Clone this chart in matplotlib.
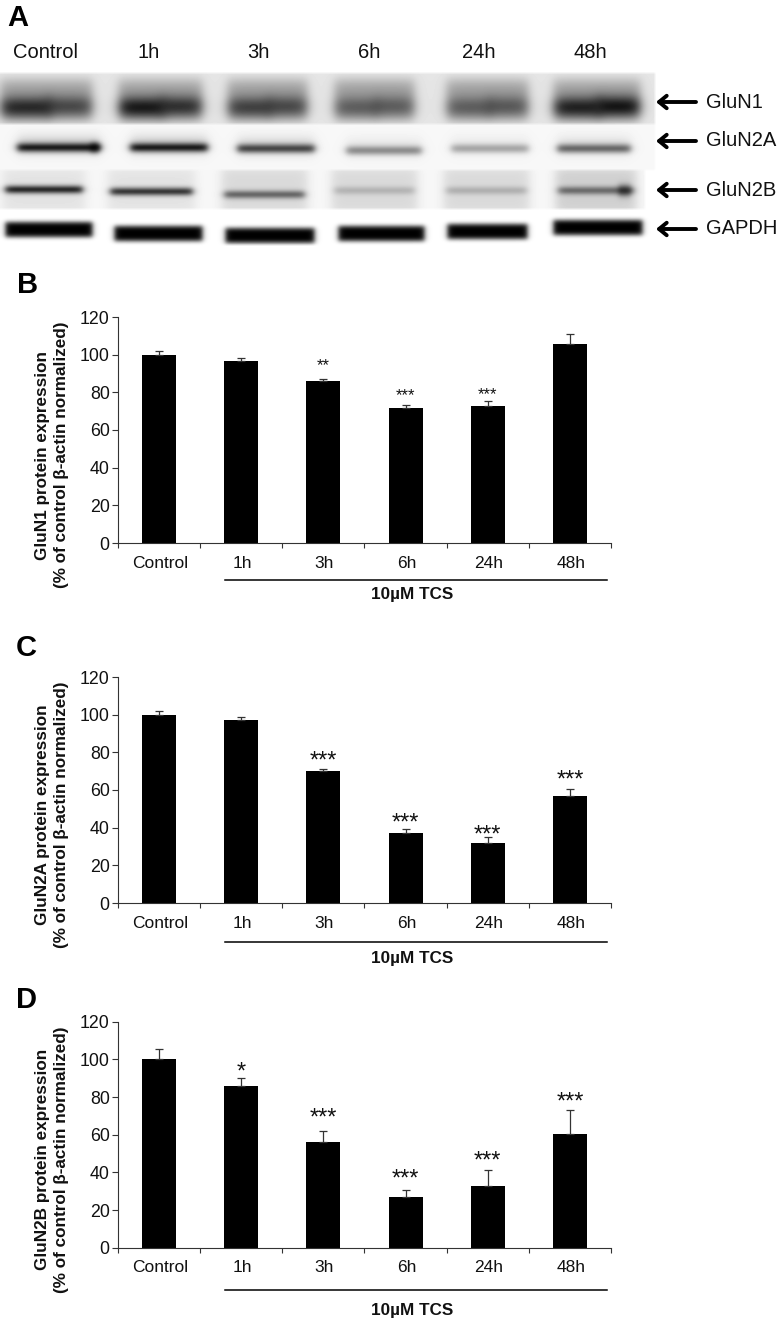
import matplotlib
matplotlib.use("Agg")
import matplotlib.pyplot as plt
import numpy as np

plt.rcParams['font.family'] = ['Liberation Sans', 'DejaVu Sans']

# bar chart data
categories = ["Control", "1h", "3h", "6h", "24h", "48h"]
yticks = [0, 20, 40, 60, 80, 100, 120]

glun1_vals = [100, 96.5, 86, 71.5, 72.5, 105.5]
glun1_tops = [102, 98, 87.3, 73.3, 75.3, 111]
glun1_sig = ["", "", "**", "***", "***", ""]
glun1_sig_y = [0, 0, 94.3, 78.4, 78.9, 0]

glun2a_vals = [100, 97, 70, 37, 32, 57]
glun2a_tops = [102, 98.8, 71.3, 39.5, 35, 60.5]
glun2a_sig = ["", "", "***", "***", "***", "***"]
glun2a_sig_y = [0, 0, 75, 42, 36, 65]

glun2b_vals = [100, 86, 56, 26.7, 33, 60.2]
glun2b_tops = [105.3, 90.3, 61.8, 30.8, 41.3, 73]
glun2b_sig = ["", "*", "***", "***", "***", "***"]
glun2b_sig_y = [0, 93, 68.5, 36, 46, 77]

# blot lanes, in image pixels
blot_names = ["GluN1", "GluN2A", "GluN2B", "GAPDH"]
blot_name_y = [102, 141, 190, 229]
n1_x0 = [0, 118, 227, 334, 446, 553]
n1_x1 = [92, 202, 307, 414, 528, 640]
n1_left = [0.75, 0.85, 0.6, 0.42, 0.42, 0.8]
n1_right = [0.55, 0.7, 0.55, 0.42, 0.45, 0.88]
n2a_x0 = [17, 130, 237, 346, 451, 557]
n2a_x1 = [100, 207, 314, 421, 528, 630]
n2a_y = [147, 147, 148, 150, 148, 148]
n2a_dark = [0.9, 0.9, 0.7, 0.4, 0.3, 0.55]
n2b_x0 = [5, 110, 224, 334, 446, 558]
n2b_x1 = [82, 192, 304, 414, 526, 633]
n2b_y = [189, 191, 194, 190, 190, 190]
n2b_dark = [0.85, 0.78, 0.55, 0.18, 0.2, 0.5]
n2b_haze = [0.08, 0.08, 0.12, 0.12, 0.12, 0.16]
gapdh_x0 = [5, 114, 225, 338, 447, 553]
gapdh_x1 = [92, 202, 314, 424, 527, 642]
gapdh_y = [229, 233, 235, 233, 231, 227]


def band(img, x0, x1, yc, hh, dark, p=2, soft=3.0):
    yy, xx = np.mgrid[0:img.shape[0], 0:img.shape[1]]
    xpart = 0.5 * (np.tanh((xx - x0) / soft) - np.tanh((xx - x1) / soft))
    ypart = np.exp(-np.abs((yy - yc) / hh) ** p)
    img *= 1 - dark * xpart * ypart


def smooth(img, size):
    kernel = np.ones(size) / size
    pad = size
    out = np.pad(img, pad, mode="edge")
    out = np.apply_along_axis(lambda r: np.convolve(r, kernel, mode="same"), 1, out)
    out = np.apply_along_axis(lambda c: np.convolve(c, kernel, mode="same"), 0, out)
    return out[pad:-pad, pad:-pad]


def make_blot():
    strip1 = np.full((51, 780), 0.9)
    strip2 = np.full((46, 780), 0.97)
    strip3 = np.full((39, 780), 0.97)
    strip4 = np.full((36, 780), 1.0)
    for i in range(6):
        w = n1_x1[i] - n1_x0[i]
        band(strip1, n1_x0[i], n1_x1[i], 26, 21, 0.3, 4, 6)
        band(strip1, n1_x0[i] + 2, n1_x0[i] + w * 0.55, 34, 11, n1_left[i], 2, 7)
        band(strip1, n1_x0[i] + w * 0.5, n1_x1[i] - 2, 33, 11, n1_right[i], 2, 7)
        band(strip2, n2a_x0[i], n2a_x1[i], n2a_y[i] - 124, 4.5, n2a_dark[i], 2, 4)
        band(strip2, n2a_x0[i], n2a_x1[i], n2a_y[i] - 127, 10, n2a_dark[i] * 0.18, 2, 6)
        band(strip3, n2b_x0[i] - 3, n2b_x1[i] + 3, 20, 24, n2b_haze[i], 6, 6)
        band(strip3, n2b_x0[i], n2b_x1[i], n2b_y[i] - 170, 4, n2b_dark[i], 2, 4)
        band(strip4, gapdh_x0[i], gapdh_x1[i], gapdh_y[i] - 209, 8, 1.0, 4, 3)
    band(strip2, 90, 98, 23, 5, 0.8, 2, 3)
    band(strip3, 618, 630, 20, 6, 0.6, 2, 3)
    img = np.ones((260, 780))
    img[73:124, 0:655] = strip1[:, 0:655]
    img[124:170, 0:655] = strip2[:, 0:655]
    img[170:209, 0:645] = strip3[:, 0:645]
    img[209:245] = strip4
    return smooth(img, 3)


fig = plt.figure(figsize=(7.8, 13.2), dpi=100)

bg = fig.add_axes([0, 0, 1, 1])
bg.axis("off")
bg.imshow(make_blot(), cmap="gray", vmin=0, vmax=1, extent=(0, 780, 260, 0), aspect="auto", interpolation="bilinear")
bg.set_xlim(0, 780)
bg.set_ylim(1320, 0)

# panel letters
for letter, x, y in [("A", 7, 18), ("B", 17, 285), ("C", 16, 648), ("D", 16, 1000)]:
    bg.text(x, y, letter, fontsize=21, fontweight="bold", va="center", ha="left", color="black")

# lane labels on top of the blot
for name, x in zip(categories, [46, 149, 258, 369, 479, 590]):
    bg.text(x, 53, name, fontsize=14.5, ha="center", va="center", color="#111111")

for name, y in zip(blot_names, blot_name_y):
    bg.annotate("", xy=(656, y), xytext=(696, y),
                arrowprops=dict(arrowstyle="->,head_length=0.55,head_width=0.45", lw=2.8, color="black", shrinkA=0, shrinkB=0))
    bg.text(706, y, name, fontsize=14.5, ha="left", va="center", color="#111111")


def panel(y0, vals, tops, sig, sig_y, name, sig_size, line_off, label_off):
    ax = fig.add_axes([118 / 780, 1 - y0 / 1320, 493 / 780, 226 / 1320])
    x = np.arange(len(vals))
    vals = np.array(vals)
    tops = np.array(tops)
    ax.bar(x, vals, width=0.415, color="black")
    ax.errorbar(x, vals, yerr=[np.zeros(len(vals)), tops - vals], fmt="none",
                ecolor="#333333", elinewidth=0.9, capsize=3.2, capthick=0.9)
    ax.set_xlim(-0.5, 5.5)
    ax.set_ylim(0, 120)
    ax.set_yticks(yticks)
    ax.set_xticks(np.arange(-0.5, 6, 1))
    ax.set_xticklabels([])
    ax.tick_params(axis="y", length=4, width=0.8, color="#333333", labelsize=12.8, pad=2, labelcolor="#111111")
    ax.tick_params(axis="x", length=3.5, width=0.8, color="#333333")
    for s in ["top", "right"]:
        ax.spines[s].set_visible(False)
    for s in ["left", "bottom"]:
        ax.spines[s].set_linewidth(0.8)
        ax.spines[s].set_color("#333333")
    for i, s in enumerate(sig):
        if s:
            ax.text(i, sig_y[i], s, fontsize=sig_size, ha="center", va="center", color="#111111")
    for i, c in enumerate(categories):
        bg.text(160 + i * 82.2, y0 + 20, c, fontsize=12.5, ha="center", va="center", color="#111111")
    bg.plot([225, 607], [y0 + line_off, y0 + line_off], color="black", lw=1.1)
    bg.text(412, y0 + label_off, "10µM TCS", fontsize=12.3, fontweight="bold", ha="center", va="center", color="#111111")
    bg.text(43, y0 - 88, name + " protein expression", rotation=90, fontsize=12.3, fontweight="bold", ha="center", va="center", color="#111111")
    bg.text(62, y0 - 88, "(% of control β-actin normalized)", rotation=90, fontsize=12.3, fontweight="bold", ha="center", va="center", color="#111111")
    return ax


panel(543, glun1_vals, glun1_tops, glun1_sig, glun1_sig_y, "GluN1", 12, 36.5, 52)
panel(903, glun2a_vals, glun2a_tops, glun2a_sig, glun2a_sig_y, "GluN2A", 17, 39, 55)
panel(1247.7, glun2b_vals, glun2b_tops, glun2b_sig, glun2b_sig_y, "GluN2B", 17, 42, 63)

fig.savefig("out.png", dpi=100)
